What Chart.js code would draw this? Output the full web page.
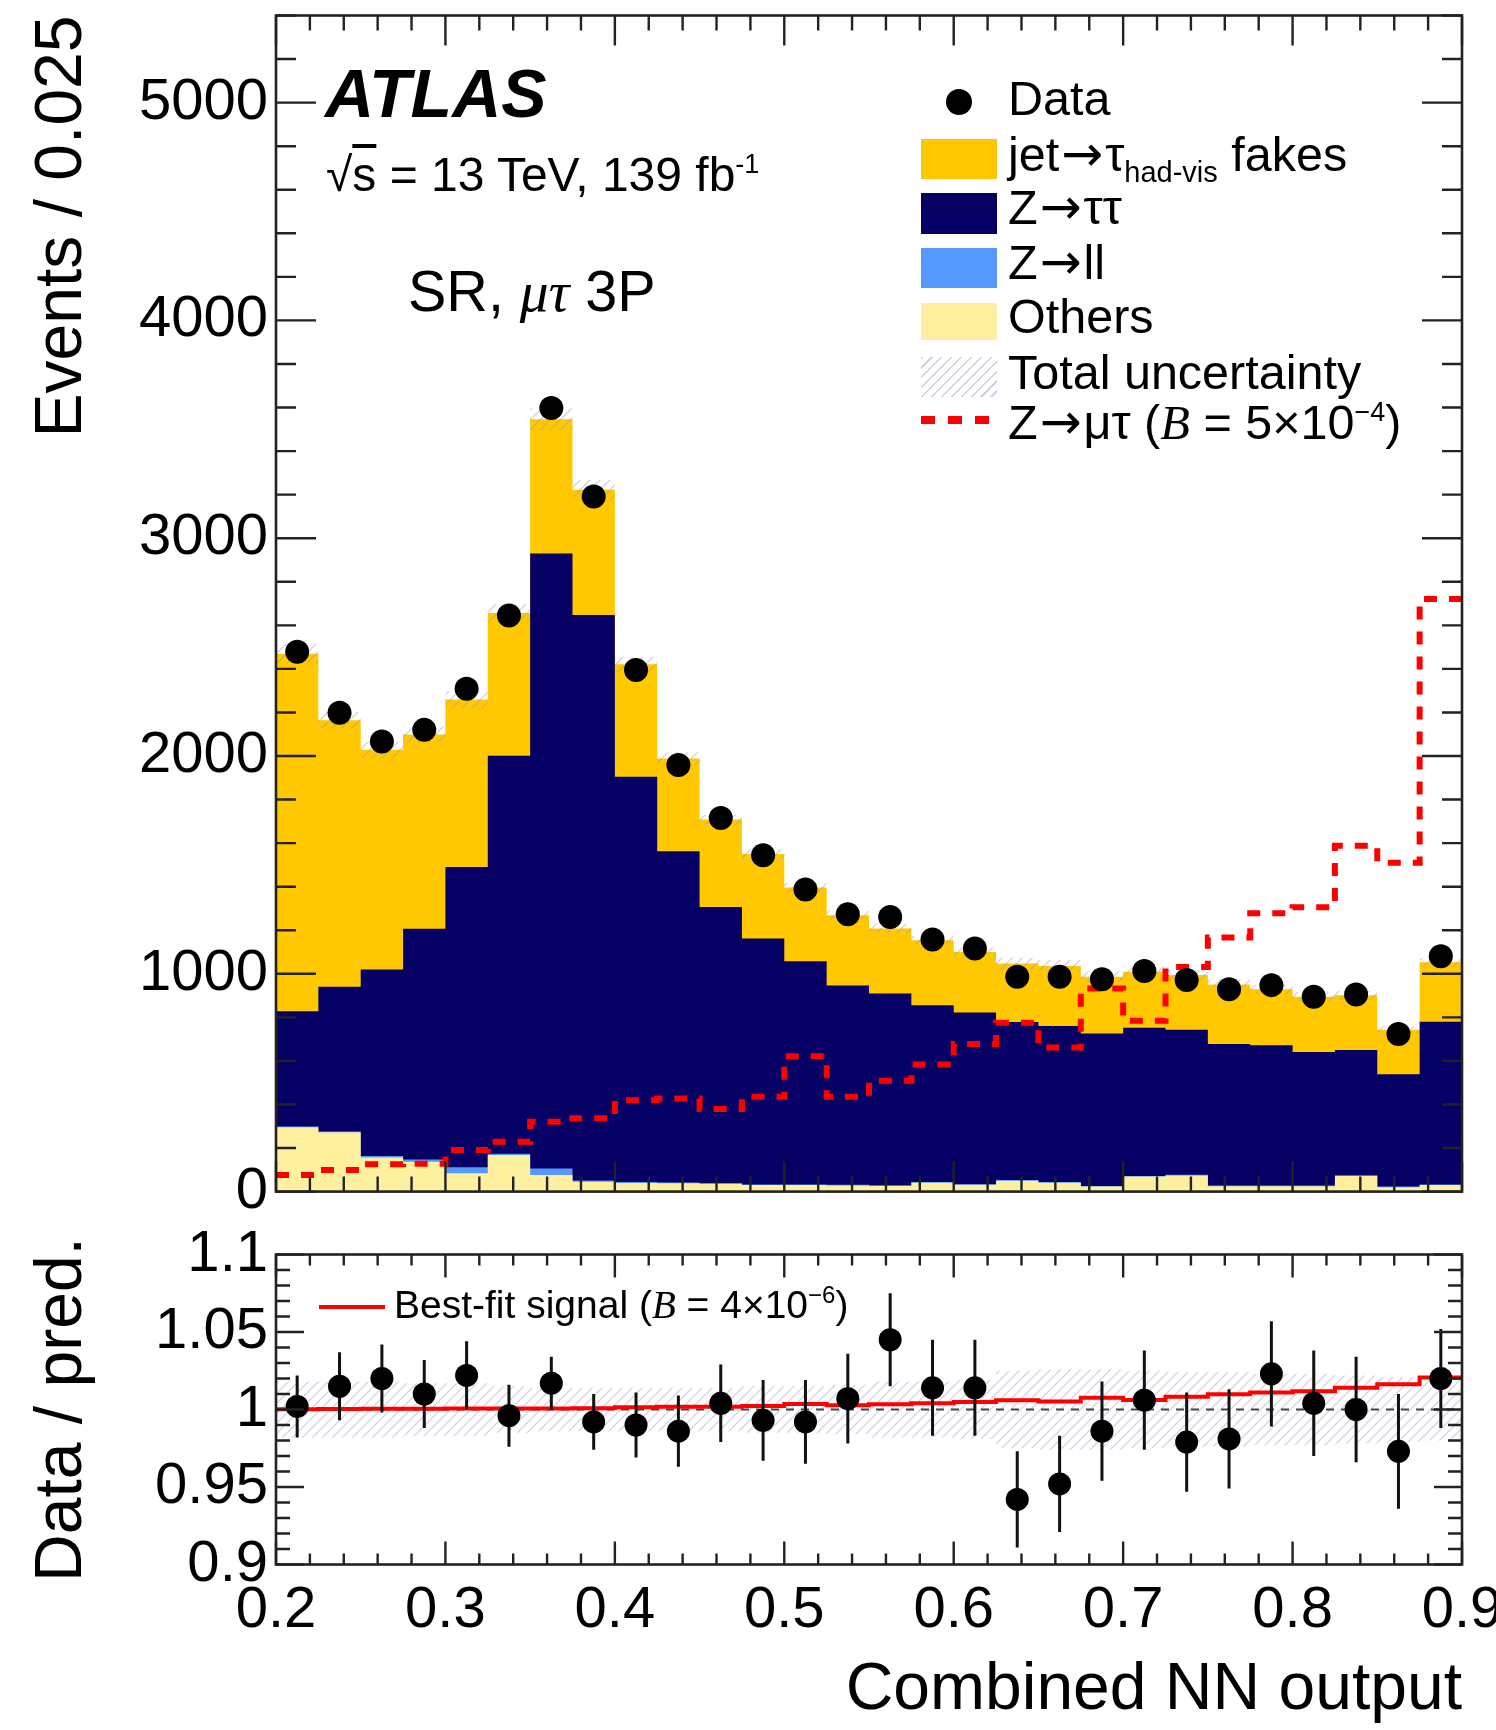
<!DOCTYPE html>
<html><head><meta charset="utf-8">
<script src="https://cdn.jsdelivr.net/npm/chart.js@4.4.1/dist/chart.umd.min.js"></script>
<style>
html,body{margin:0;padding:0;background:#fff;}
#wrap{position:relative;width:1496px;height:1730px;overflow:hidden;font-family:'Liberation Sans',Arial,Helvetica,sans-serif;color:#000;}
canvas{position:absolute;left:0;}
.t{position:absolute;white-space:nowrap;line-height:1;z-index:5;}
.sw{position:absolute;z-index:5;}
.sub{line-height:0;}
.serif{font-family:'Liberation Serif','Times New Roman',serif;font-style:italic;}
.arr{font-family:'DejaVu Sans',sans-serif;line-height:0;font-size:50px;margin:0 2px;}
</style></head><body>
<div id="wrap">
<canvas id="top" width="1496" height="1240" style="top:0"></canvas>
<canvas id="ratio" width="1496" height="530" style="top:1200px"></canvas>

<div class="t" style="left:325px;top:59px;font-size:68px;font-weight:bold;font-style:italic;">ATLAS</div>
<div class="t" style="left:326px;top:151px;font-size:48px;">√<span style="text-decoration:overline">s</span> = 13 TeV, 139 fb<span class="sub" style="font-size:27px;vertical-align:18px;">-1</span></div>
<div class="t" style="left:408px;top:263px;font-size:57.5px;">SR, <span class="serif">μτ</span> 3P</div>

<div class="sw" style="left:946px;top:89px;width:26px;height:26px;border-radius:50%;background:#000;"></div>
<div class="t" style="left:1008px;top:74px;font-size:48.5px;">Data</div>
<div class="sw" style="left:921px;top:139px;width:76px;height:40px;background:#ffc800;"></div>
<div class="t" style="left:1008px;top:130px;font-size:48.5px;">jet<span class="arr">→</span>τ<span class="sub" style="font-size:29px;vertical-align:-11px;">had-vis</span> fakes</div>
<div class="sw" style="left:921px;top:193px;width:76px;height:41px;background:#060064;"></div>
<div class="t" style="left:1008px;top:183px;font-size:48.5px;">Z<span class="arr">→</span>ττ</div>
<div class="sw" style="left:921px;top:248px;width:76px;height:40px;background:#5599ff;"></div>
<div class="t" style="left:1008px;top:238px;font-size:48.5px;">Z<span class="arr">→</span>ll</div>
<div class="sw" style="left:921px;top:303px;width:76px;height:37px;background:#fff0a0;"></div>
<div class="t" style="left:1008px;top:292px;font-size:48.5px;">Others</div>
<div class="sw" style="left:921px;top:357px;width:76px;height:40px;background:repeating-linear-gradient(135deg, rgba(150,150,200,0.45) 0 1.5px, rgba(255,255,255,0) 1.5px 7px);"></div>
<div class="t" style="left:1008px;top:348px;font-size:48.5px;">Total uncertainty</div>
<div class="sw" style="left:921px;top:416px;width:68px;height:8px;background:repeating-linear-gradient(to right, #ff0000 0 14px, rgba(255,255,255,0) 14px 27px);"></div>
<div class="t" style="left:1008px;top:398px;font-size:48.5px;">Z<span class="arr">→</span>μτ (<span class="serif">B</span> = 5×10<span class="sub" style="font-size:27px;vertical-align:18px;">−4</span>)</div>

<div class="sw" style="left:319px;top:1305px;width:66px;height:4px;background:#ff0000;"></div>
<div class="t" style="left:394px;top:1285px;font-size:39px;">Best-fit signal (<span class="serif">B</span> = 4×10<span class="sub" style="font-size:24px;vertical-align:15px;">−6</span>)</div>
</div>

<script>
// ---------- data ----------
const binEdges = [0.2,0.225,0.25,0.275,0.3,0.325,0.35,0.375,0.4,0.425,0.45,0.475,0.5,0.525,0.55,0.575,0.6,0.625,0.65,0.675,0.7,0.725,0.75,0.775,0.8,0.825,0.85,0.875,0.9];
const dataVals   = [2479,2199,2067,2120,2309,2645,3598,3192,2395,1959,1715,1544,1387,1273,1261,1157,1116,986,986,975,1013,972,929,948,895,905,724,1081];
const fakesVals  = [1642,1224,1009,892,770,656,616,574,516,426,401,388,338,323,299,298,278,268,276,260,257,251,273,257,254,251,204,273];
const zttVals    = [529,664,857,1060,1378,1827,2824,2597,1861,1521,1268,1129,1025,915,880,812,788,726,716,700,680,666,650,644,613,575,516,747];
const zllVals    = [4,4,6,10,28,6,30,6,4,4,4,3,3,3,3,3,3,3,3,3,3,3,3,3,3,3,3,3];
const othersVals = [295,272,157,137,84,168,76,45,40,38,35,30,30,28,26,41,31,50,41,23,69,74,25,25,25,72,20,30];
const signalVals = [76,99,126,128,191,229,321,337,420,428,379,435,622,435,509,584,678,775,662,933,784,1031,1167,1278,1306,1588,1510,2721];
const uncVals    = [0.018,0.018,0.018,0.017,0.017,0.015,0.014,0.014,0.014,0.014,0.014,0.015,0.015,0.016,0.018,0.018,0.019,0.025,0.026,0.026,0.025,0.024,0.024,0.023,0.023,0.022,0.021,0.020];
const ratioVals  = [1.002,1.015,1.020,1.010,1.022,0.996,1.017,0.992,0.990,0.986,1.004,0.993,0.992,1.007,1.045,1.014,1.014,0.942,0.952,0.986,1.006,0.979,0.981,1.023,1.004,1.000,0.973,1.020];
const ratioErr   = [0.020,0.022,0.022,0.022,0.022,0.020,0.017,0.018,0.021,0.023,0.025,0.026,0.027,0.029,0.030,0.031,0.031,0.031,0.031,0.032,0.032,0.032,0.032,0.034,0.034,0.034,0.037,0.032];
const bestFitVals= [1.0002,1.0004,1.0005,1.0005,1.0007,1.0007,1.0007,1.0008,1.0014,1.0017,1.0018,1.0022,1.0036,1.0027,1.0034,1.0040,1.0049,1.0059,1.0051,1.0076,1.0062,1.0083,1.0098,1.0110,1.0117,1.0141,1.0163,1.0207];
const refLine = 1;
const xTicks = [0.2,0.3,0.4,0.5,0.6,0.7,0.8,0.9];
const xTickLabels = ['0.2','0.3','0.4','0.5','0.6','0.7','0.8','0.9'];
const yTicksTop = [0,1000,2000,3000,4000,5000];
const yTickLabelsTop = ['0','1000','2000','3000','4000','5000'];
const yTicksRatio = [0.9,0.95,1,1.05,1.1];
const yTickLabelsRatio = ['0.9','0.95','1','1.05','1.1'];

// ---------- helpers ----------
Chart.defaults.font.family = "'Liberation Sans', Arial, Helvetica, sans-serif";
Chart.defaults.color = '#000';
const centers = binEdges.slice(0,-1).map((e,i)=>(e+binEdges[i+1])/2);
const step = vals => { const p = vals.map((v,i)=>({x:binEdges[i],y:v})); p.push({x:binEdges[vals.length],y:vals[vals.length-1]}); return p; };
const pts = vals => vals.map((v,i)=>({x:centers[i],y:v}));
const cum1 = othersVals.slice();
const cum2 = cum1.map((v,i)=>v+zllVals[i]);
const cum3 = cum2.map((v,i)=>v+zttVals[i]);
const cum4 = cum3.map((v,i)=>v+fakesVals[i]);

function makeHatch(canvasId, color, s, lw){
  const c=document.createElement('canvas'); c.width=s; c.height=s;
  const g=c.getContext('2d'); g.strokeStyle=color; g.lineWidth=lw;
  g.beginPath();
  g.moveTo(0,s); g.lineTo(s,0);
  g.moveTo(-s/2,s/2); g.lineTo(s/2,-s/2);
  g.moveTo(s/2,s*1.5); g.lineTo(s*1.5,s/2);
  g.stroke();
  return document.getElementById(canvasId).getContext('2d').createPattern(c,'repeat');
}
function minorList(lo, hi, stepv, every){
  const out=[]; const n=Math.round((hi-lo)/stepv);
  for(let k=0;k<=n;k++){ if(k%every!==0) out.push(+(lo+k*stepv).toFixed(6)); }
  return out;
}
function axisFrame(o){
  return { id:'axisFrame', afterDatasetsDraw(chart){
    const {ctx, chartArea:a} = chart; const x=chart.scales.x, y=chart.scales.y;
    ctx.save(); ctx.lineWidth=2.4; ctx.strokeStyle='#222';
    ctx.beginPath();
    const tx=(vals,L)=>vals.forEach(v=>{const p=x.getPixelForValue(v); ctx.moveTo(p,a.bottom); ctx.lineTo(p,a.bottom-L); ctx.moveTo(p,a.top); ctx.lineTo(p,a.top+L);});
    const ty=(vals,L)=>vals.forEach(v=>{const p=y.getPixelForValue(v); ctx.moveTo(a.left,p); ctx.lineTo(a.left+L,p); ctx.moveTo(a.right,p); ctx.lineTo(a.right-L,p);});
    tx(o.xMajor,o.xMajL); tx(o.xMinor,o.xMinL); ty(o.yMajor,o.yMajL); ty(o.yMinor,o.yMinL);
    ctx.stroke();
    ctx.lineWidth=2.6; ctx.strokeRect(a.left,a.top,a.right-a.left,a.bottom-a.top);
    ctx.restore();
  }};
}
const stepDs = (vals, extra) => Object.assign({type:'line', data:step(vals), stepped:'before', pointRadius:0, borderWidth:0, fill:false}, extra);
const titleFont = {size:66, family:"'Liberation Sans', Arial, sans-serif"};
const tickFont = {size:58, family:"'Liberation Sans', Arial, sans-serif"};

// ---------- top panel ----------
const hatchTop = makeHatch('top','rgba(150,150,200,0.45)',10,1.3);
new Chart(document.getElementById('top'), {
  type:'line',
  data:{ datasets:[
    {type:'line', data:pts(dataVals), showLine:false, pointRadius:12, pointBackgroundColor:'#000', pointBorderWidth:0, order:0},
    stepDs(signalVals, {borderColor:'#ff0000', borderWidth:6, borderDash:[13,12], order:1}),
    stepDs(cum4.map((v,i)=>v*(1+uncVals[i])), {fill:'+1', backgroundColor:hatchTop, order:2}),
    stepDs(cum4.map((v,i)=>v*(1-uncVals[i])), {order:3}),
    stepDs(cum1, {fill:'origin', backgroundColor:'#fff0a0', order:4}),
    stepDs(cum2, {fill:'origin', backgroundColor:'#5599ff', order:5}),
    stepDs(cum3, {fill:'origin', backgroundColor:'#060064', order:6}),
    stepDs(cum4, {fill:'origin', backgroundColor:'#ffc800', order:7})
  ]},
  options:{
    responsive:false, animation:false, devicePixelRatio:1, events:[],
    layout:{padding:{left:0,right:34,top:15.5,bottom:48.4}},
    plugins:{legend:{display:false}, tooltip:{enabled:false}},
    scales:{
      x:{type:'linear', min:0.2, max:0.9, display:false},
      y:{type:'linear', min:0, max:5400,
        grid:{display:false, drawTicks:false}, border:{display:false},
        ticks:{font:tickFont, color:'#000', padding:8, autoSkip:false, callback:(v,i)=>yTickLabelsTop[i]},
        afterBuildTicks:s=>{ s.ticks = yTicksTop.map(v=>({value:v})); },
        afterFit:s=>{ s.width=276; s.paddingTop=0; s.paddingBottom=0; },
        title:{display:true, text:'Events / 0.025', align:'end', font:titleFont, color:'#000', padding:{top:23.4,bottom:0}}
      }
    }
  },
  plugins:[axisFrame({xMajor:xTicks, xMinor:minorList(0.2,0.9,0.02,5), xMajL:30, xMinL:15,
                      yMajor:yTicksTop, yMinor:minorList(0,5400,200,5), yMajL:40, yMinL:20})]
});

// ---------- ratio panel ----------
const hatchR = makeHatch('ratio','rgba(150,150,200,0.42)',10,1.3);
const PT = 0;
const errPlugin = { id:'errbars', beforeDatasetDraw(chart,args){
  if(args.index!==PT) return;
  const {ctx} = chart; const x=chart.scales.x, y=chart.scales.y;
  ctx.save(); ctx.strokeStyle='#111'; ctx.lineWidth=3; ctx.beginPath();
  ratioVals.forEach((r,i)=>{ const p=x.getPixelForValue(centers[i]); ctx.moveTo(p,y.getPixelForValue(r-ratioErr[i])); ctx.lineTo(p,y.getPixelForValue(r+ratioErr[i])); });
  ctx.stroke(); ctx.restore();
}};
new Chart(document.getElementById('ratio'), {
  type:'line',
  data:{ datasets:[
    {type:'line', data:pts(ratioVals), showLine:false, pointRadius:11.5, pointBackgroundColor:'#000', pointBorderWidth:0, order:0},
    stepDs(bestFitVals, {borderColor:'#ff0000', borderWidth:4, order:1}),
    {type:'line', data:[{x:0.2,y:refLine},{x:0.9,y:refLine}], borderColor:'#444', borderWidth:2, borderDash:[8,7], pointRadius:0, fill:false, order:2},
    stepDs(uncVals.map(u=>1+u), {fill:'+1', backgroundColor:hatchR, order:3}),
    stepDs(uncVals.map(u=>1-u), {order:4})
  ]},
  options:{
    responsive:false, animation:false, devicePixelRatio:1, events:[],
    layout:{padding:{left:0,right:34,top:54.5,bottom:0}},
    plugins:{legend:{display:false}, tooltip:{enabled:false}},
    scales:{
      x:{type:'linear', min:0.2, max:0.9,
        grid:{display:false, drawTicks:false}, border:{display:false},
        ticks:{font:tickFont, color:'#000', padding:11.5, autoSkip:false, maxRotation:0, minRotation:0, callback:(v,i)=>xTickLabels[i]},
        afterBuildTicks:s=>{ s.ticks = xTicks.map(v=>({value:v})); },
        afterFit:s=>{ s.height=165.5; s.paddingLeft=0; s.paddingRight=0; },
        title:{display:true, text:'Combined NN output', align:'end', font:titleFont, color:'#000', padding:{top:0,bottom:0}}
      },
      y:{type:'linear', min:0.9, max:1.1,
        grid:{display:false, drawTicks:false}, border:{display:false},
        ticks:{font:tickFont, color:'#000', padding:8, autoSkip:false, callback:(v,i)=>yTickLabelsRatio[i]},
        afterBuildTicks:s=>{ s.ticks = yTicksRatio.map(v=>({value:v})); },
        afterFit:s=>{ s.width=276; s.paddingTop=0; s.paddingBottom=0; },
        title:{display:true, text:'Data / pred.', align:'center', font:titleFont, color:'#000', padding:{top:23.4,bottom:0}}
      }
    }
  },
  plugins:[errPlugin, axisFrame({xMajor:xTicks, xMinor:minorList(0.2,0.9,0.02,5), xMajL:23, xMinL:11,
                      yMajor:yTicksRatio, yMinor:minorList(0.9,1.1,0.01,5), yMajL:28, yMinL:14})]
});
</script>
</body></html>
